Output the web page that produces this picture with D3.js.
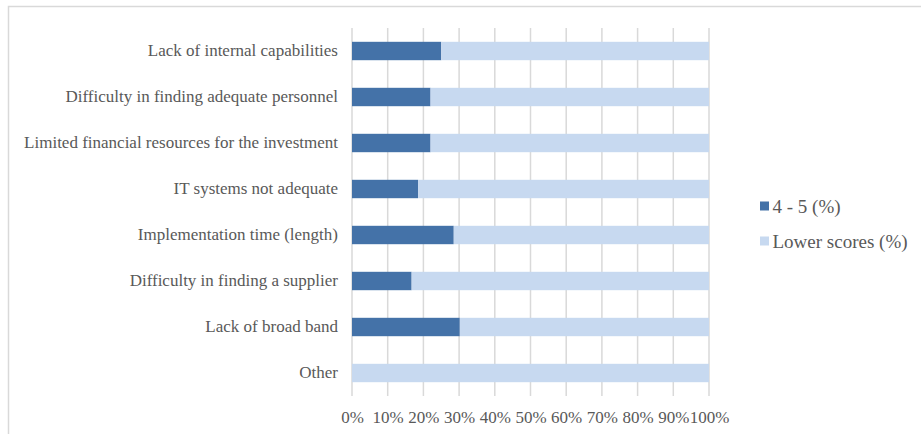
<!DOCTYPE html>
<html>
<head>
<meta charset="utf-8">
<script src="https://cdn.jsdelivr.net/npm/d3@7"></script>
<style>
  html, body { margin: 0; padding: 0; background: #fff; }
  svg text { font-family: "Liberation Serif", "Times New Roman", serif; fill: #595959; }
</style>
</head>
<body>
<svg id="chart" width="921" height="434"></svg>
<script>
// Obstacles to adoption, share of respondents
const categories = [
  "Lack of internal capabilities",
  "Difficulty in finding adequate personnel",
  "Limited financial resources for the investment",
  "IT systems not adequate",
  "Implementation time (length)",
  "Difficulty in finding a supplier",
  "Lack of broad band",
  "Other"
];
const highScores = [25, 22, 22, 18.5, 28.5, 16.7, 30.2, 0];   // 4 - 5 (%)
const lowerScores = highScores.map(v => 100 - v);            // Lower scores (%)
const seriesNames = ["4 - 5 (%)", "Lower scores (%)"];
const seriesColors = ["#4472a8", "#c7d9f0"];
const tickValues = [0, 10, 20, 30, 40, 50, 60, 70, 80, 90, 100];

const svg = d3.select("#chart");

// outer chart frame
svg.append("rect")
  .attr("x", 8.5).attr("y", 6.5)
  .attr("width", 930).attr("height", 450)
  .attr("fill", "none").attr("stroke", "#d9d9d9").attr("stroke-width", 1.5);

const plotLeft = 352, plotRight = 709, plotTop = 28, plotBottom = 396;
const x = d3.scaleLinear().domain([0, 100]).range([plotLeft, plotRight]);
const y = d3.scaleBand().domain(categories).range([plotTop, plotBottom]).paddingInner(0.6).paddingOuter(0.3);

// vertical gridlines
svg.append("g").selectAll("line").data(tickValues).join("line")
  .attr("x1", d => x(d)).attr("x2", d => x(d))
  .attr("y1", plotTop).attr("y2", plotBottom)
  .attr("stroke", "#d9d9d9").attr("stroke-width", 1.5);

const stacked = d3.stack().keys([0, 1])(categories.map((c, i) => ({0: highScores[i], 1: lowerScores[i], cat: c})));

svg.append("g").selectAll("g").data(stacked).join("g")
  .attr("fill", (d, i) => seriesColors[i])
  .selectAll("rect").data(d => d).join("rect")
  .attr("x", d => x(d[0]))
  .attr("width", d => x(d[1]) - x(d[0]))
  .attr("y", d => y(d.data.cat))
  .attr("height", y.bandwidth());

// category labels
const yAxis = svg.append("g")
  .attr("transform", `translate(${plotLeft},0)`)
  .call(d3.axisLeft(y).tickSize(0).tickPadding(14));
yAxis.attr("font-family", null);
yAxis.select(".domain").remove();
yAxis.selectAll("text").style("font-size", "17px").attr("fill", "#595959");

// percentage axis
const xAxis = svg.append("g")
  .attr("transform", `translate(0,${plotBottom})`)
  .call(d3.axisBottom(x).tickValues(tickValues).tickFormat(d => d + "%").tickSize(0).tickPadding(15));
xAxis.attr("font-family", null);
xAxis.select(".domain").remove();
xAxis.selectAll("text").style("font-size", "17px").attr("fill", "#595959");

// legend
const legend = svg.append("g").selectAll("g").data(seriesNames).join("g")
  .attr("transform", (d, i) => `translate(760,${206.5 + i * 35})`);
legend.append("rect")
  .attr("x", 0).attr("y", -5).attr("width", 9).attr("height", 9)
  .attr("fill", (d, i) => seriesColors[i]);
legend.append("text")
  .attr("x", 12.5).attr("y", 0).attr("dy", "0.35em")
  .style("font-size", "19px")
  .text(d => d);
</script>
</body>
</html>
